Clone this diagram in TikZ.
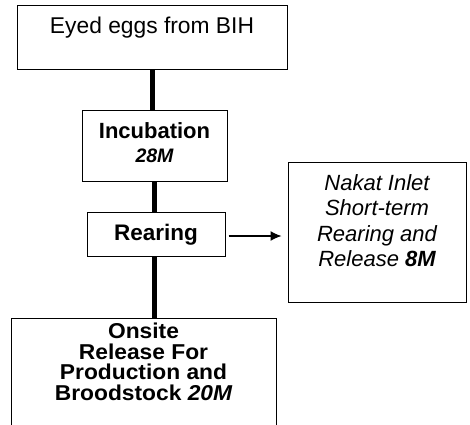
\documentclass[tikz,border=0pt]{standalone}
\usepackage{fontspec}
\setmainfont{Liberation Sans}
\newfontfamily\widesans[FakeStretch=1.06]{Liberation Sans}
\usetikzlibrary{arrows.meta,calc}
\begin{document}
\begin{tikzpicture}[x=1pt,y=-1pt,
  box/.style={draw=black,line width=1pt,inner sep=0pt,fill=white},
  txt/.style={inner sep=0pt,align=center,anchor=north,text=black},
  thick link/.style={line width=5pt,draw=black},
  arr/.style={line width=1.2pt,-{Latex[length=11pt,width=10pt]}}]
\clip (0,0) rectangle (470,424);
\fill[white] (0,0) rectangle (470,424);
% boxes
\node[box,minimum width=270pt,minimum height=64pt] (top) at (152,37) {};
\node[box,minimum width=145pt,minimum height=71pt] (inc) at (154.5,145.5) {};
\node[box,minimum width=138pt,minimum height=44pt] (rear) at (156,234) {};
\node[box,minimum width=178pt,minimum height=140pt] (nakat) at (377,232) {};
\node[box,minimum width=265pt,minimum height=130pt] (onsite) at (143.5,383) {};
% texts
\node[txt,font=\fontsize{22.8}{27}\selectfont] (toptxt) at (152,17) {Eyed eggs from BIH};
\node[txt,font=\fontsize{22}{24.5}\selectfont\bfseries] (inctxt) at (154.5,122) {Incubation\\ {\fontsize{19.5}{24.5}\selectfont\itshape 28M}};
\node[txt,font=\fontsize{22.5}{25}\selectfont\bfseries] (reartxt) at (156,224) {Rearing};
\node[txt,font=\fontsize{22}{25.5}\selectfont\itshape] (nakattxt) at (377,174) {Nakat Inlet\\ Short-term\\ Rearing and\\ Release {\bfseries 8M}};
\node[txt,font=\widesans\fontsize{21.5}{20.5}\selectfont\bfseries] (onsitetxt) at (143.5,323) {Onsite\\ Release For\\ Production and\\ Broodstock {\itshape 20M}};
% connectors
\draw[thick link] (top.south) -- (top.south |- inc.north);
\draw[thick link] (inc.south) -- (inc.south |- rear.north);
\draw[thick link] (rear.south -| inc.south) -- (onsite.north -| inc.south);
\draw[arr] ([xshift=3pt,yshift=-2pt]rear.east) -- ([xshift=-6pt,yshift=-2pt]rear.east -| nakat.west);
\end{tikzpicture}
\end{document}
